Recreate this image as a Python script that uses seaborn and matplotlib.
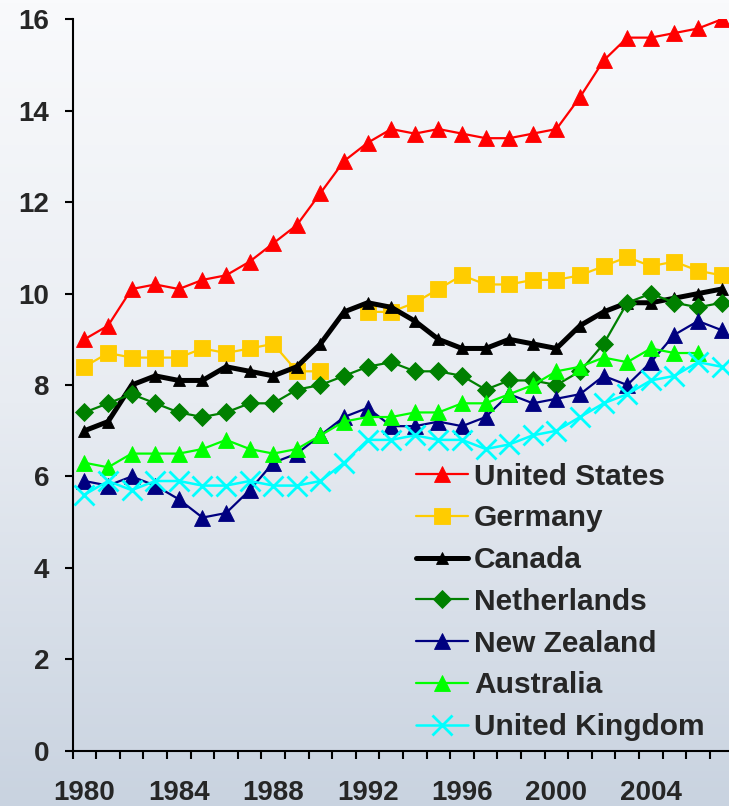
import numpy as np
import pandas as pd
import matplotlib
matplotlib.use("Agg")
import matplotlib.pyplot as plt
import seaborn as sns
from matplotlib.colors import LinearSegmentedColormap

sns.set_style("ticks")
plt.rcParams['font.family'] = ['Liberation Sans', 'DejaVu Sans']
plt.rcParams['font.weight'] = 'bold'

years = list(range(1980, 2008))
nan = np.nan

united_states = [9.0, 9.3, 10.1, 10.2, 10.1, 10.3, 10.4, 10.7, 11.1, 11.5,
                 12.2, 12.9, 13.3, 13.6, 13.5, 13.6, 13.5, 13.4, 13.4, 13.5,
                 13.6, 14.3, 15.1, 15.6, 15.6, 15.7, 15.8, 16.0]
germany = [8.4, 8.7, 8.6, 8.6, 8.6, 8.8, 8.7, 8.8, 8.9, 8.3,
           8.3, nan, 9.6, 9.6, 9.8, 10.1, 10.4, 10.2, 10.2, 10.3,
           10.3, 10.4, 10.6, 10.8, 10.6, 10.7, 10.5, 10.4]
canada = [7.0, 7.2, 8.0, 8.2, 8.1, 8.1, 8.4, 8.3, 8.2, 8.4,
          8.9, 9.6, 9.8, 9.7, 9.4, 9.0, 8.8, 8.8, 9.0, 8.9,
          8.8, 9.3, 9.6, 9.8, 9.8, 9.9, 10.0, 10.1]
netherlands = [7.4, 7.6, 7.8, 7.6, 7.4, 7.3, 7.4, 7.6, 7.6, 7.9,
               8.0, 8.2, 8.4, 8.5, 8.3, 8.3, 8.2, 7.9, 8.1, 8.1,
               8.0, 8.3, 8.9, 9.8, 10.0, 9.8, 9.7, 9.8]
new_zealand = [5.9, 5.8, 6.0, 5.8, 5.5, 5.1, 5.2, 5.7, 6.3, 6.5,
               6.9, 7.3, 7.5, 7.1, 7.1, 7.2, 7.1, 7.3, 7.8, 7.6,
               7.7, 7.8, 8.2, 8.0, 8.5, 9.1, 9.4, 9.2]
australia = [6.3, 6.2, 6.5, 6.5, 6.5, 6.6, 6.8, 6.6, 6.5, 6.6,
             6.9, 7.2, 7.3, 7.3, 7.4, 7.4, 7.6, 7.6, 7.8, 8.0,
             8.3, 8.4, 8.6, 8.5, 8.8, 8.7, 8.7, nan]
united_kingdom = [5.6, 5.9, 5.7, 5.9, 5.9, 5.8, 5.8, 5.9, 5.8, 5.8,
                  5.9, 6.3, 6.8, 6.8, 6.9, 6.8, 6.8, 6.6, 6.7, 6.9,
                  7.0, 7.3, 7.6, 7.8, 8.1, 8.2, 8.5, 8.4]

series = [
    ("United States", united_states, dict(color="#FF0000", marker="^", markersize=11.5, lw=1.6)),
    ("Germany", germany, dict(color="#FFCC00", marker="s", markersize=11, lw=1.6)),
    ("Canada", canada, dict(color="black", marker="^", markersize=8, lw=3.6)),
    ("Netherlands", netherlands, dict(color="#008000", marker="D", markersize=9, lw=1.6)),
    ("New Zealand", new_zealand, dict(color="#000080", marker="^", markersize=11.5, lw=1.6)),
    ("Australia", australia, dict(color="#00FF00", marker="^", markersize=11.5, lw=1.6)),
    ("United Kingdom", united_kingdom, dict(color="#00FFFF", marker="x", markersize=14,
                                            lw=1.8, markeredgewidth=2.0)),
]

fig = plt.figure(figsize=(7.29, 8.06), dpi=100)

# background gradient
bg = fig.add_axes([0, 0, 1, 1], zorder=-10)
cmap = LinearSegmentedColormap.from_list("bg", ["#F9FAFC", "#E8ECF2", "#C9D3E0"])
bg.imshow(np.linspace(0, 1, 256).reshape(-1, 1), aspect="auto", cmap=cmap,
          extent=[0, 1, 0, 1])
bg.set_axis_off()

ax = fig.add_axes([0.0997, 0.0686, 0.9064, 0.9074])
ax.set_facecolor("none")

handles = []
for name, vals, style in series:
    df = pd.DataFrame({"year": years, "value": vals})
    run = df["value"].isna().cumsum()
    first = True
    for _, part in df[df["value"].notna()].groupby(run[df["value"].notna()]):
        kw = dict(style)
        kw.setdefault("markeredgewidth", 0.6)
        kw["markeredgecolor"] = kw["color"]  # seaborn defaults to white edges
        sns.lineplot(data=part, x="year", y="value", ax=ax, legend=False, **kw)
        if first:
            handles.append(ax.lines[-1])
            first = False

ax.set_xlim(1979.5, 2007.5)
ax.set_ylim(0, 16)
ax.set_xlabel("")
ax.set_ylabel("")
ax.set_xticks(np.arange(1979.5, 2008, 1.0))
ax.set_xticklabels([])
ax.set_xticks(range(1980, 2008, 4), minor=True)
ax.set_xticklabels([str(y) for y in range(1980, 2008, 4)], minor=True)
ax.set_yticks(range(0, 17, 2))
ax.tick_params(axis="x", which="major", direction="out", length=5.5, width=1.5, color="black")
ax.tick_params(axis="x", which="minor", length=0, pad=21, labelsize=20)
ax.tick_params(axis="y", direction="out", length=6, width=1.5, color="black",
               pad=11, labelsize=20)
for lab in ax.get_xticklabels(minor=True) + ax.get_yticklabels():
    lab.set_fontweight("bold")

sns.despine(ax=ax)
for sp in ["left", "bottom"]:
    ax.spines[sp].set_linewidth(1.5)
    ax.spines[sp].set_color("black")

leg = ax.legend(handles, [s[0] for s in series], loc="upper left",
                bbox_to_anchor=(0.5706, 0.426), bbox_transform=fig.transFigure,
                frameon=False, borderpad=0, borderaxespad=0, handlelength=1.75,
                handletextpad=0.2, labelspacing=0.46,
                prop={"family": "Liberation Sans", "weight": "bold", "size": 21.5})

fig.savefig("out.png", dpi=100)
